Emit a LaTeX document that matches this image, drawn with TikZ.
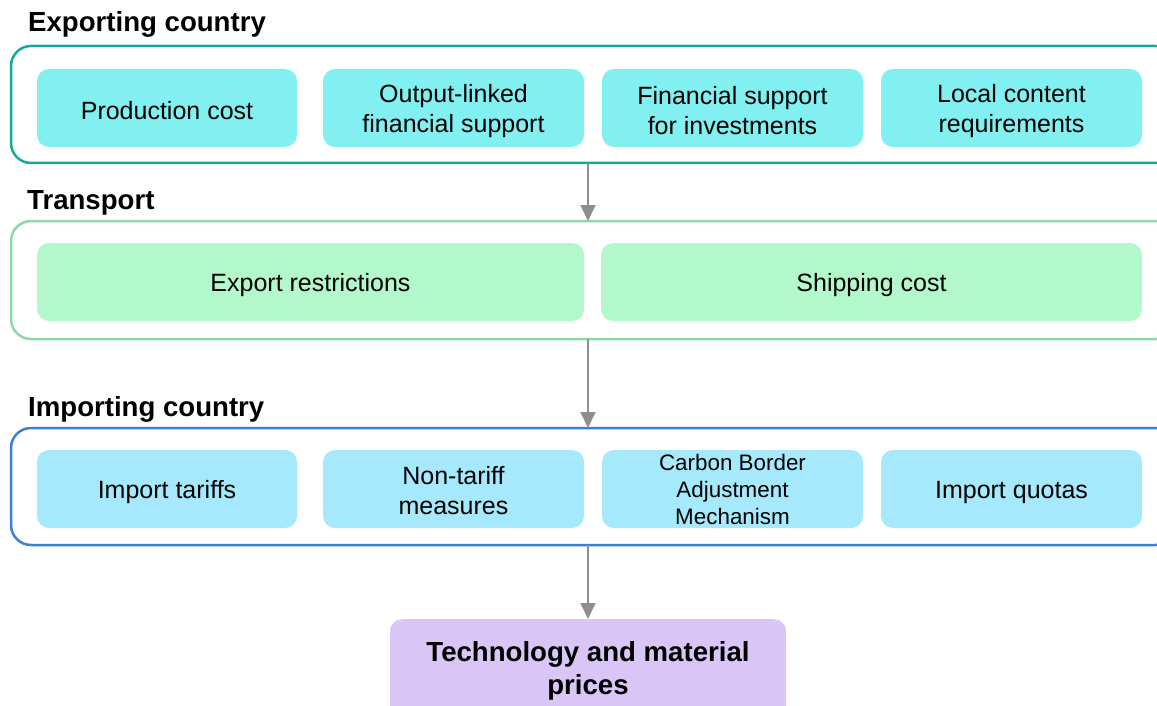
\documentclass[tikz,border=0pt]{standalone}
\usepackage{fontspec}
\setmainfont{Liberation Sans}
\usetikzlibrary{arrows.meta}
\definecolor{expB}{HTML}{14A99B}
\definecolor{trB}{HTML}{8DD7AA}
\definecolor{impB}{HTML}{3D7ED8}
\definecolor{expF}{HTML}{82EFF0}
\definecolor{trF}{HTML}{B3F8CB}
\definecolor{impF}{HTML}{A6E9FD}
\definecolor{resF}{HTML}{D9C5F6}
\definecolor{arrC}{HTML}{8E8E8E}
\tikzset{
  outerbox/.style={draw, line width=2.5pt, rounded corners=20pt, fill=none},
  innerbox/.style={rounded corners=12pt, inner sep=0pt, minimum height=78pt},
  txt/.style={align=center, inner sep=0pt, font=\fontsize{25}{30}\selectfont, text=black},
  title/.style={anchor=base west, inner sep=0pt, font=\fontsize{27.6}{33}\selectfont\bfseries},
  flow/.style={draw=arrC, line width=1.8pt, -{Triangle[length=16pt,width=15pt]}},
}
\begin{document}
\begin{tikzpicture}[x=1pt,y=-1pt]
\useasboundingbox (0,0) rectangle (1157,706);
\clip (0,0) rectangle (1157,706);
\fill[white] (0,0) rectangle (1157,706);
% titles
\node[title] (t1) at (28,32) {Exporting country};
\node[title] (t2) at (27,209) {Transport};
\node[title] (t3) at (28,416) {Importing country};
% outer boxes
\draw[outerbox, draw=expB] (11,46) rectangle (1175,163);
\draw[outerbox, draw=trB] (11,221) rectangle (1175,339);
\draw[outerbox, draw=impB] (11,428) rectangle (1175,545);
\coordinate (o1b) at (588,163);
\coordinate (o2t) at (588,221);
\coordinate (o2b) at (588,339);
\coordinate (o3t) at (588,428);
\coordinate (o3b) at (588,545);
% exporting
\node[innerbox, fill=expF, minimum width=260pt] (e1) at (167,108) {};
\node[innerbox, fill=expF, minimum width=261pt] (e2) at (453.5,108) {};
\node[innerbox, fill=expF, minimum width=261pt] (e3) at (732.5,108) {};
\node[innerbox, fill=expF, minimum width=261pt] (e4) at (1011.5,108) {};
\node[txt] (e1t) at ([yshift=-2.5pt]e1.center) {Production cost};
\node[txt] (e2t) at ([yshift=-3pt]e2.center) {Output-linked\\financial support};
\node[txt] (e3t) at ([yshift=-3pt]e3.center) {Financial support\\for investments};
\node[txt] (e4t) at ([yshift=-3pt]e4.center) {Local content\\requirements};
% transport
\node[innerbox, fill=trF, minimum width=547pt] (r1) at (310.5,282) {};
\node[innerbox, fill=trF, minimum width=541pt] (r2) at (871.5,282) {};
\node[txt] (r1t) at ([yshift=-3pt]r1.center) {Export restrictions};
\node[txt] (r2t) at ([yshift=-3pt]r2.center) {Shipping cost};
% importing
\node[innerbox, fill=impF, minimum width=260pt] (i1) at (167,489) {};
\node[innerbox, fill=impF, minimum width=261pt] (i2) at (453.5,489) {};
\node[innerbox, fill=impF, minimum width=261pt] (i3) at (732.5,489) {};
\node[innerbox, fill=impF, minimum width=261pt] (i4) at (1011.5,489) {};
\node[txt] (i1t) at ([yshift=-3pt]i1.center) {Import tariffs};
\node[txt] (i2t) at ([yshift=-2pt]i2.center) {Non-tariff\\measures};
\node[txt, font=\fontsize{22.4}{27}\selectfont] (i3t) at (i3.center) {Carbon Border\\Adjustment\\Mechanism};
\node[txt] (i4t) at ([yshift=-3pt]i4.center) {Import quotas};
% result
\node[innerbox, fill=resF, minimum width=396pt, minimum height=110pt, anchor=north] (res) at (588,619) {};
\node[anchor=base, inner sep=0pt, font=\fontsize{27.6}{33}\selectfont\bfseries] (resA) at (588,661) {Technology and material};
\node[anchor=base, inner sep=0pt, font=\fontsize{27.6}{33}\selectfont\bfseries] (resB) at (588,694) {prices};
% arrows
\draw[flow] (o1b) -- (o2t);
\draw[flow] (o2b) -- (o3t);
\draw[flow] (o3b) -- (res.north);
\end{tikzpicture}
\end{document}
